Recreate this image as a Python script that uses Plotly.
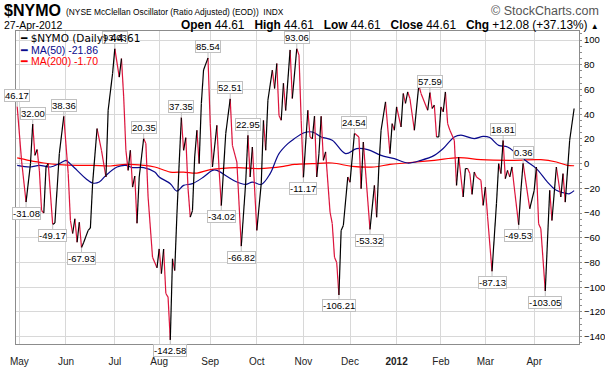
import pandas as pd
import plotly.graph_objects as go

# ---------------- data (trading-day number, value) ----------------
holidays = ["2011-05-30", "2011-07-04", "2011-09-05", "2011-11-24", "2011-12-26",
            "2012-01-02", "2012-01-16", "2012-02-20", "2012-04-06"]
days = pd.bdate_range("2011-04-29", "2012-04-27")
days = days[~days.isin(pd.to_datetime(holidays))]

nymo_day = [0, 2, 4, 6, 7, 8, 9, 10, 11, 12, 13, 14, 16, 17, 19, 21, 23, 24, 25, 26, 27, 28, 29, 30,
            32, 33, 34, 36, 38, 40, 41, 43, 44, 46, 47, 48, 49, 50, 51, 52, 53, 54, 55, 57, 58, 59,
            61, 63, 64, 65, 66, 67, 68, 69, 70, 71, 72, 73, 74, 75, 76, 77, 78, 79, 80, 81, 82, 83,
            84, 86, 87, 88, 90, 91, 92, 94, 96, 97, 99, 101, 103, 104, 105, 106, 108, 110, 111, 112,
            113, 115, 116, 117, 118, 119, 120, 121, 123, 124, 126, 127, 128, 129, 131, 132, 133, 134,
            135, 136, 137, 138, 139, 141, 142, 143, 144, 145, 146, 147, 149, 150, 152, 154, 155, 156,
            159, 161, 162, 163, 164, 166, 168, 169, 170, 171, 173, 174, 175, 176, 177, 179, 181, 182,
            185, 186, 187, 188, 189, 190, 191, 192, 193, 194, 195, 197, 198, 199, 200, 201, 202, 203,
            204, 205, 206, 207, 209, 210, 211, 212, 214, 216, 217, 218, 219, 220, 221, 222, 223, 224,
            226, 227, 228, 231, 233, 234, 235, 236, 238, 240, 241, 243, 245, 246, 247, 249, 251]
nymo_val = [46.17, 2, -31.08, 0, 32.00, 6.7, 11.4, -5.4, -37.9, -40, -2.7, 0, -49.17, -48, 8.1, 38.36,
            -8.1, -46, -56.5, -44.6, -63.6, -47.4, -67.93, -63.6, -54, -52, -16, 28.4, 10.8, -10.8,
            43.2, 73, 93.03, 70, 85, 54, 10.8, -5.4, 10.8, -19, -10, -48.2, -10.8, 20.35, 16.2, -27,
            -75.7, -84.3, -69, -89, -69, -105, -108, -142.58, -77, -86.5, -40.5, 0, 37.35, 10.8, 21,
            -20, -43.3, -38, 5.4, 27, 0, 48.7, 75.7, 85.54, 32.4, -2.7, 31, -5.4, -34.02, 24.3, 52.51,
            14.8, 1.3, -66.82, -14.9, 22.95, -10.8, 13.5, -54, -16, 35, 10.8, 51.3, 75.7, 60.8, 81,
            39, 35.1, 65, 43, 92, 52.7, 93.06, 87.8, 35, -11.17, 43.2, 21.6, 20, 38.4, -10.8, 8,
            38.4, 2.7, 9.5, -39.2, -48.6, -75.7, -80, -106.21, -54, -50, -10.8, -15, 24.54, 21.6,
            -20.3, 17.5, -53.32, -17.6, -43.3, -2.7, 27, 50, 8.1, 32.4, 27, 45.9, 29.7, 56.8, 48.7,
            58, 52.7, 27, 63.5, 56.8, 43.2, 57.59, 44.6, 47.3, 21.6, 21.6, 45.9, 41.9, 58, 32.4, 27,
            18.9, -17.6, 5.4, -10.8, -27, -4, -4, -8, -24.9, -6.8, -10.8, -13.5, -33.8, -19, -43,
            -87.13, -32.4, 0, -8.1, 18.81, -12.2, -5.4, -10.8, -2.7, -18.9, -49.53, -22, 0.36, -36.5,
            -21.6, -2.7, -48.6, -52.7, -103.05, -21.6, -46, -2.7, -27, -8.1, -31.1, 18.9, 44.61]

ma50_day = [0, 6, 10, 15, 19, 22, 23, 27, 31, 34, 37, 40, 45, 49, 52, 57, 62, 64, 69, 72, 75, 79, 84,
            88, 90, 95, 99, 103, 106, 110, 114, 118, 122, 125, 129, 133, 137, 142, 148, 153, 158,
            164, 170, 176, 182, 188, 192, 197, 200, 206, 210, 213, 217, 221, 225, 230, 234, 239,
            243, 248, 249, 251]
ma50_val = [-1.4, -2.7, -1.4, -2.7, 0, 2.7, 1.3, -5.4, -12.2, -15.7, -14.9, -9.5, -2.7, -1.4, -3.2,
            -3.2, -6.8, -10.8, -16.2, -22.2, -17.6, -16.2, -10.8, -5.4, -5.4, -10.8, -14.9, -16.8,
            -14.9, -16.8, -8.1, 8.1, 16.2, 20.3, 24.8, 25.6, 21.6, 18.9, 8.1, 12.2, 11.4, 6.7, 4,
            0.5, 2.7, 6.7, 12.2, 21.6, 23, 20.3, 22.1, 21.1, 14.8, 13.5, 8.1, 1.3, -4, -14.9,
            -21.6, -24.3, -24.3, -21.86]

ma200_day = [0, 5, 12, 19, 27, 34, 42, 49, 57, 62, 69, 75, 81, 87, 99, 109, 120, 125, 133, 142,
             151, 161, 168, 175, 188, 199, 209, 224, 236, 243, 248, 251]
ma200_val = [4.6, 2.7, 0.5, -0.8, -1.4, -1.4, -1.9, -0.6, -1.4, -2.7, -6.8, -6.8, -7.6, -4.9, -3.2,
             -4.0, -2.2, -0.6, 0, 0.5, -2.2, -2.7, -0.6, 0.5, 2.7, 4.9, 3.2, 2.7, 3.2, 1.3, -1.4,
             -1.70]

peak_days = [0, 7, 21, 44, 57, 74, 86, 96, 104, 126, 152, 186, 219, 228]
trough_days = [4, 16, 29, 69, 92, 101, 129, 145, 159, 214, 226, 238]

y_ticks = list(range(-140, 101, 20))

# ---------------- figure ----------------
BLACK = "#000000"
CRIMSON = "#dc143c"
NAVY = "#0a0a8c"
RED = "#ff0000"

bx, by, rx, ry = [], [], [], []
for i in range(len(nymo_day) - 1):
    seg_x = [nymo_day[i], nymo_day[i + 1], None]
    seg_y = [nymo_val[i], nymo_val[i + 1], None]
    if nymo_val[i + 1] >= nymo_val[i]:
        bx += seg_x; by += seg_y
    else:
        rx += seg_x; ry += seg_y

fig = go.Figure()
fig.add_trace(go.Scatter(x=ma200_day, y=ma200_val, mode="lines", line=dict(color=RED, width=1.2),
                         line_shape="spline", name="MA(200)"))
fig.add_trace(go.Scatter(x=ma50_day, y=ma50_val, mode="lines", line=dict(color=NAVY, width=1.2),
                         line_shape="spline", name="MA(50)"))
fig.add_trace(go.Scatter(x=rx, y=ry, mode="lines", line=dict(color=CRIMSON, width=1.2),
                         connectgaps=False, name="down"))
fig.add_trace(go.Scatter(x=bx, y=by, mode="lines", line=dict(color=BLACK, width=1.2),
                         connectgaps=False, name="up"))

# month ticks from the trading calendar (first trading day of each full month)
tickvals, ticktext = [], []
prev = (days[0].year, days[0].month)
for i, d in enumerate(days):
    key = (d.year, d.month)
    if key != prev:
        tickvals.append(i)
        ticktext.append("<b>2012</b>" if d.month == 1 else d.strftime("%b"))
        prev = key

L, R, T, B = 16, 579, 31, 344
W, H = R - L, B - T


def px(x):
    return (x - L) / W


def py(y):
    return (B - y) / H


ann = []
val_of = dict(zip(nymo_day, nymo_val))
for d in peak_days:
    ann.append(dict(x=d, y=val_of[d], xref="x", yref="y", text=f"{val_of[d]:.2f}",
                    showarrow=True, arrowhead=0, arrowwidth=1, arrowcolor="#c0c0c0",
                    ax=0, ay=-11, standoff=0, bgcolor="white", bordercolor="#c0c0c0",
                    borderwidth=1, borderpad=0,
                    font=dict(family="Liberation Sans", size=9.5, color="#000")))
for d in trough_days:
    ann.append(dict(x=d, y=val_of[d], xref="x", yref="y", text=f"{val_of[d]:.2f}",
                    showarrow=True, arrowhead=0, arrowwidth=1, arrowcolor="#c0c0c0",
                    ax=0, ay=11, standoff=0, bgcolor="white", bordercolor="#c0c0c0",
                    borderwidth=1, borderpad=0,
                    font=dict(family="Liberation Sans", size=9.5, color="#000")))

# legend (inside the plot, top-left)
ann.append(dict(x=px(18), y=py(38), xref="paper", yref="paper", xanchor="left", yanchor="middle",
                showarrow=False, text="<span style='color:#000'>━</span> $NYMO (Daily) 44.61",
                font=dict(family="DejaVu Sans", size=10.5, color="#000")))
ann.append(dict(x=px(18), y=py(49.5), xref="paper", yref="paper", xanchor="left", yanchor="middle",
                showarrow=False, text="━ MA(50) -21.86",
                font=dict(family="Liberation Sans", size=10.5, color=NAVY)))
ann.append(dict(x=px(18), y=py(61), xref="paper", yref="paper", xanchor="left", yanchor="middle",
                showarrow=False, text="━ MA(200) -1.70",
                font=dict(family="Liberation Sans", size=10.5, color=RED)))

# header
SP = "&nbsp;&nbsp;&nbsp;"
ann.append(dict(x=px(2), y=py(10.5), xref="paper", yref="paper", xanchor="left", yanchor="middle",
                showarrow=False, text="<b>$NYMO</b>",
                font=dict(family="Liberation Sans", size=16, color="#000")))
ann.append(dict(x=px(64), y=py(12), xref="paper", yref="paper", xanchor="left", yanchor="middle",
                showarrow=False, text="(NYSE McClellan Oscillator (Ratio Adjusted) (EOD))&nbsp;&nbsp;INDX",
                font=dict(family="Liberation Sans", size=8.4, color="#000")))
ann.append(dict(x=px(601), y=py(11), xref="paper", yref="paper", xanchor="right", yanchor="middle",
                showarrow=False, text="© StockCharts.com",
                font=dict(family="Liberation Sans", size=12.5, color="#555")))
ann.append(dict(x=px(2), y=py(25.5), xref="paper", yref="paper", xanchor="left", yanchor="middle",
                showarrow=False, text="27-Apr-2012",
                font=dict(family="Liberation Sans", size=10.5, color="#000")))
ann.append(dict(x=px(601), y=py(24.5), xref="paper", yref="paper", xanchor="right", yanchor="middle",
                showarrow=False,
                text=f"<b>Open</b> 44.61{SP}<b>High</b> 44.61{SP}<b>Low</b> 44.61{SP}<b>Close</b> 44.61{SP}"
                     "<b>Chg</b> +12.08 (+37.13%) <span style='font-size:8px'>▲</span>",
                font=dict(family="Liberation Sans", size=11.9, color="#000")))

fig.update_layout(
    width=605, height=372,
    margin=dict(l=L, r=605 - R, t=T, b=372 - B, autoexpand=False),
    paper_bgcolor="white", plot_bgcolor="white",
    showlegend=False,
    annotations=ann,
    xaxis=dict(range=[-0.53, 253.2], tickvals=tickvals, ticktext=ticktext, automargin=False,
               showgrid=True, gridcolor="#d8d8d8", gridwidth=1, zeroline=False,
               showline=True, linecolor="#8c8c8c", linewidth=1, mirror=True,
               ticks="outside", ticklen=8, tickcolor="rgba(0,0,0,0)",
               tickfont=dict(family="Liberation Sans", size=10, color="#222")),
    yaxis=dict(side="right", range=[-145.9, 107.3], tickvals=y_ticks, automargin=False,
               showgrid=True, gridcolor="#d8d8d8", gridwidth=1, zeroline=False,
               showline=True, linecolor="#8c8c8c", linewidth=1, mirror=True,
               ticks="outside", ticklen=2, tickcolor="#8c8c8c",
               minor=dict(ticks="outside", dtick=5, tick0=0, ticklen=2, tickcolor="#8c8c8c",
                          showgrid=False),
               tickfont=dict(family="Liberation Sans", size=9.5, color="#000")),
)

fig.write_html("out.html", config={"displayModeBar": False},
               post_script="document.body.style.margin='0px';")
